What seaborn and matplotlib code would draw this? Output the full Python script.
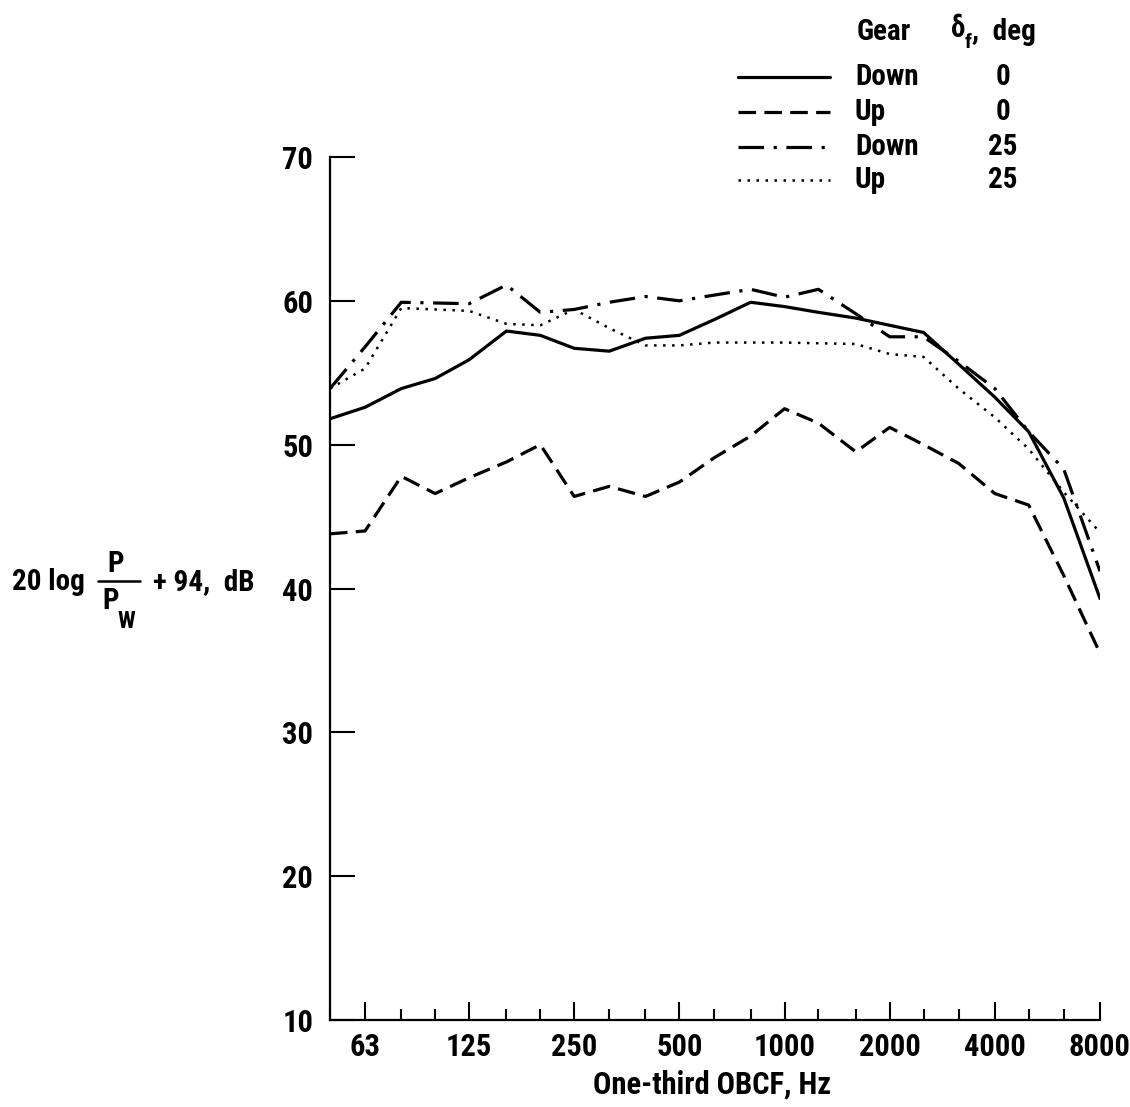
import matplotlib
matplotlib.use("Agg")
import matplotlib.pyplot as plt
import matplotlib.transforms as mtransforms
from matplotlib.lines import Line2D
from matplotlib.ticker import FixedLocator, FixedFormatter, NullFormatter
from matplotlib import font_manager
import seaborn as sns

# one-third octave band centre frequencies, Hz
freqs = [50, 63, 80, 100, 125, 160, 200, 250, 315, 400, 500, 630,
         800, 1000, 1250, 1600, 2000, 2500, 3150, 4000, 5000, 6300, 8000]
major_ticks = [63, 125, 250, 500, 1000, 2000, 4000, 8000]
minor_ticks = [f for f in freqs if f not in major_ticks]
y_ticks = [10, 20, 30, 40, 50, 60, 70]

# levels, dB
down_0 = [51.8, 52.6, 53.9, 54.6, 55.9, 57.9, 57.6, 56.7, 56.5, 57.4, 57.6, 58.7,
          59.9, 59.6, 59.2, 58.8, 58.3, 57.8, 55.6, 53.3, 50.9, 46.3, 39.3]
up_0 = [43.8, 44.0, 47.8, 46.6, 47.7, 48.8, 50.0, 46.4, 47.1, 46.4, 47.4, 49.1,
        50.6, 52.5, 51.5, 49.5, 51.2, 50.0, 48.7, 46.6, 45.8, 40.9, 35.5]
down_25 = [53.9, 56.8, 59.9, 59.85, 59.8, 61.1, 59.2, 59.4, 59.9, 60.3, 60.0, 60.4,
           60.8, 60.25, 60.8, 59.1, 57.5, 57.5, 55.8, 53.9, 50.9, 48.3, 41.2]
up_25 = [53.9, 55.3, 59.5, 59.4, 59.3, 58.4, 58.3, 59.4, 58.1, 56.9, 56.9, 57.1,
         57.1, 57.1, 57.05, 57.0, 56.3, 56.1, 53.9, 51.9, 49.7, 46.7, 43.9]

gear = ["Down", "Up", "Down", "Up"]
flap = ["0", "0", "25", "25"]

styles = [
    ("-", 2.3),
    ((0, (5.5, 2.6)), 2.3),
    ((0, (8, 3, 1, 3)), 2.3),
    ((0, (1, 2.6)), 1.8),
]

sns.set_theme(style="white")

# pick a narrow face if one is installed
names = {f.name for f in font_manager.fontManager.ttflist}
family = [n for n in ["Liberation Sans Narrow", "Roboto Condensed", "Open Sans Condensed",
                      "Roboto", "DejaVu Sans"] if n in names] + ["DejaVu Sans"]
plt.rcParams["font.family"] = family
plt.rcParams["font.stretch"] = "condensed"
plt.rcParams["font.weight"] = "bold"
plt.rcParams["text.color"] = "black"

W, H = 1130, 1107
fig = plt.figure(figsize=(W / 100, H / 100), dpi=100)
ax = fig.add_axes([330 / W, 1 - 1020 / H, (1100 - 330) / W, (1020 - 157) / H])


def px(x, y):
    return x / W, 1 - y / H


series = [down_0, up_0, down_25, up_25]
for vals, (ls, lw) in zip(series, styles):
    sns.lineplot(x=freqs, y=vals, ax=ax, color="black", linestyle=ls,
                 linewidth=lw, dash_capstyle="butt")

ax.set_xscale("log", base=2)
ax.set_xlim(50, 8000)
ax.set_ylim(10, 70)
ax.xaxis.set_major_locator(FixedLocator(major_ticks))
ax.xaxis.set_major_formatter(FixedFormatter([str(f) for f in major_ticks]))
ax.xaxis.set_minor_locator(FixedLocator(minor_ticks))
ax.xaxis.set_minor_formatter(NullFormatter())
ax.set_yticks(y_ticks)

for s in ["top", "right"]:
    ax.spines[s].set_visible(False)
for s in ["left", "bottom"]:
    ax.spines[s].set_color("black")
    ax.spines[s].set_linewidth(1.6)

ax.tick_params(axis="x", which="major", direction="in", length=13, width=1.5,
               colors="black", labelsize=22, pad=9, bottom=True)
ax.tick_params(axis="x", which="minor", direction="in", length=8, width=1.5,
               colors="black", bottom=True)
ax.tick_params(axis="y", direction="in", length=18, width=1.5,
               colors="black", labelsize=22, pad=12, left=True)
# last label sits a little left of its tick, as in the original
shift = mtransforms.ScaledTranslation(-10 / 100, 0, fig.dpi_scale_trans)
for tick in ax.xaxis.get_major_ticks():
    if tick.label1.get_text() == "8000":
        tick.label1.set_transform(tick.label1.get_transform() + shift)

fig.text(*px(712, 1085), "One-third OBCF, Hz", ha="center", va="center", fontsize=22)

# y axis label: 20 log P/Pw + 94, dB
fig.text(*px(12, 582), "20 log", ha="left", va="center", fontsize=21)
fig.text(*px(116, 564), "P", ha="center", va="center", fontsize=21)
fig.add_artist(Line2D([98 / W, 140 / W], [1 - 581 / H] * 2, color="black",
                      linewidth=1.8, transform=fig.transFigure))
fig.text(*px(111, 601), "P", ha="center", va="center", fontsize=21)
fig.text(*px(126, 622), "W", ha="center", va="center", fontsize=17)
fig.text(*px(153, 582), "+ 94,  dB", ha="left", va="center", fontsize=21)

# legend block
fig.text(*px(884, 32), "Gear", ha="center", va="center", fontsize=21)
fig.text(*px(958, 29), "δ", ha="center", va="center", fontsize=21)
fig.text(*px(968, 43), "f", ha="center", va="center", fontsize=15)
fig.text(*px(972, 32), ",  deg", ha="left", va="center", fontsize=21)
rows_y = [77, 112, 147, 180]
for (ls, lw), g, f, ry in zip(styles, gear, flap, rows_y):
    fig.add_artist(Line2D([738 / W, 830 / W], [1 - ry / H] * 2, color="black",
                          linestyle=ls, linewidth=lw, dash_capstyle="butt",
                          transform=fig.transFigure))
    fig.text(*px(855, ry), g, ha="left", va="center", fontsize=21)
    fig.text(*px(1003, ry), f, ha="center", va="center", fontsize=21)

fig.savefig("out.png", dpi=100, facecolor="white")
